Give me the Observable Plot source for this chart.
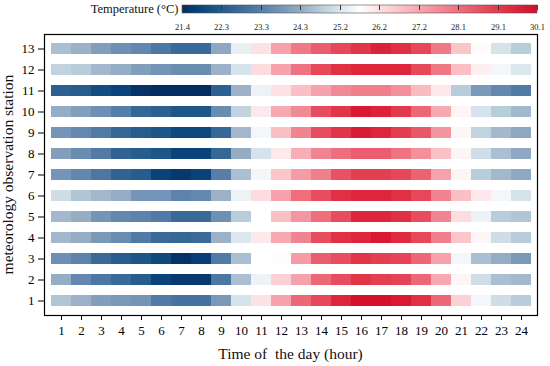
<!DOCTYPE html>
<html><head><meta charset="utf-8">
<script src="https://cdn.jsdelivr.net/npm/d3@7"></script>
<script src="https://cdn.jsdelivr.net/npm/@observablehq/plot@0.6"></script>
<style>
body{margin:0;background:#fff;}
#wrap{width:550px;height:366px;overflow:hidden;}
#wrap svg{display:block;}
</style></head><body><div id="wrap"></div>
<script>
const hours = [1,2,3,4,5,6,7,8,9,10,11,12,13,14,15,16,17,18,19,20,21,22,23,24];
const stations = [13,12,11,10,9,8,7,6,5,4,3,2,1];

const station13 = [24.6,24.4,24.0,23.7,23.5,23.1,22.8,22.8,24.2,25.45,26.2,27.3,28.0,28.5,28.9,29.3,29.7,29.4,28.9,28.0,26.7,25.8,25.2,24.8];
const station12 = [24.9,24.8,24.5,24.3,24.0,23.8,23.6,23.6,24.4,25.2,26.3,27.3,28.1,28.9,29.4,29.6,29.6,29.6,28.9,28.0,26.8,26.0,25.6,25.3];
const station11 = [22.5,22.4,22.0,21.8,21.5,21.4,21.4,21.4,22.5,24.4,25.5,26.2,26.8,27.3,27.7,27.9,27.9,27.6,26.9,26.1,24.8,23.9,23.5,23.2];
const station10 = [24.3,24.0,23.7,23.3,22.7,22.5,22.2,22.2,23.6,24.9,26.1,27.2,27.7,28.8,29.3,29.9,29.7,29.2,28.3,27.2,25.9,25.2,24.8,24.5];
const station9  = [23.8,23.5,23.2,22.7,22.4,22.2,21.9,21.9,22.7,24.5,25.6,26.8,27.8,28.8,29.3,29.8,29.6,29.1,28.6,27.5,25.9,24.9,24.5,24.2];
const station8  = [24.0,23.6,23.2,22.6,22.4,22.2,21.8,21.8,22.7,24.3,25.2,26.1,27.1,27.8,28.2,28.5,28.5,28.1,27.6,26.8,25.9,25.1,24.6,24.2];
const station7  = [23.8,23.5,23.1,22.6,22.4,21.8,21.6,21.8,23.3,24.6,25.6,26.7,27.4,27.9,28.7,29.1,29.1,28.9,28.4,27.3,25.9,24.8,24.5,24.2];
const station6  = [25.1,24.7,24.5,24.3,23.8,23.8,23.4,23.5,24.4,25.5,26.3,27.3,28.2,28.8,29.4,29.6,29.6,29.4,28.9,27.8,26.8,26.1,25.6,25.2];
const station5  = [24.5,24.3,23.8,23.5,23.4,23.2,22.8,22.8,23.7,24.8,25.75,26.8,27.5,28.2,28.8,29.6,29.6,29.4,28.8,27.8,26.3,25.5,24.8,24.7];
const station4  = [24.5,24.3,23.9,23.6,23.2,22.8,22.7,22.8,24.4,25.3,26.1,27.2,27.8,28.8,29.4,29.6,29.9,29.5,28.9,27.9,26.7,25.9,25.1,24.8];
const station3  = [23.7,23.4,22.8,22.4,22.2,21.9,21.5,21.7,23.2,24.6,25.75,25.8,27.4,28.5,28.8,29.3,29.1,29.0,28.3,27.3,25.6,24.6,24.3,23.9];
const station2  = [24.3,23.5,23.1,22.8,22.4,21.8,21.6,21.6,23.1,24.6,25.5,26.5,27.3,28.3,28.8,29.3,29.1,29.0,28.3,27.2,25.9,25.1,24.6,24.5];
const station1  = [24.7,24.4,24.0,23.9,23.8,23.2,23.0,23.0,23.9,25.2,26.2,27.3,28.3,28.9,29.6,30.1,30.1,29.9,29.4,28.3,26.5,25.6,25.1,24.8];

const tempMin = 21.4, tempMax = 30.1;
const legendTickLabels = ["21.4","22.3","23.3","24.3","25.2","26.2","27.2","28.1","29.1","30.1"];

// colour ramp stops (blue - white - red)
const rampValues = [21.4,21.85,22.35,22.85,23.35,23.85,24.35,24.85,25.3,25.75,26.2,26.7,27.2,27.7,28.2,28.7,29.2,29.65,30.1];
const rampColors = ["#032d62","#0b467e","#245b8d","#3d6c9c","#5a80aa","#7797b8","#98aec6","#bcd0dc","#dde8ee","#ffffff","#fde2e5","#fbc6ca","#f7a8b1","#f28a96","#ee6e7c","#e85264","#e23a4c","#dc2439","#d4102a"];
const ramp = d3.scaleLinear().domain(rampValues).range(rampColors).interpolate(d3.interpolateRgb).clamp(true);
const interp = t => ramp(tempMin + t * (tempMax - tempMin));

const rows = [
  [13, station13],[12, station12],[11, station11],[10, station10],[9, station9],[8, station8],[7, station7],
  [6, station6],[5, station5],[4, station4],[3, station3],[2, station2],[1, station1]
];
const data = rows.flatMap(([s, vals]) => vals.map((v, i) => ({station: s, hour: hours[i], temp: v})));

const font = "'Liberation Serif', 'Times New Roman', serif";
const wrap = document.getElementById("wrap");

// Legend
const legendTicks = legendTickLabels.map((_, i) => tempMin + i * (tempMax - tempMin) / (legendTickLabels.length - 1));
const legend = Plot.legend({
  color: {type: "linear", domain: [tempMin, tempMax], interpolate: interp},
  width: 550, height: 32,
  marginLeft: 182, marginRight: 13, marginTop: 5, marginBottom: 19,
  tickSize: 0,
  ticks: legendTicks,
  tickFormat: (d, i) => legendTickLabels[i],
  label: null,
  style: {fontFamily: font, fontSize: "8.5px", color: "#222", background: "white"}
});
wrap.appendChild(legend);
const lg = d3.select(legend);
lg.selectAll(".tick text").attr("y", 11);
lg.selectAll(".tick line").attr("y1", -8).attr("y2", -3).attr("stroke", "#333").attr("stroke-width", 1);
lg.append("rect").attr("x", 182).attr("y", 5).attr("width", 550 - 182 - 13).attr("height", 8)
  .attr("fill", "none").attr("stroke", "#555").attr("stroke-width", 0.6);
lg.append("text").attr("x", 178.5).attr("y", 12.5).attr("text-anchor", "end")
  .attr("font-size", "12.5px").attr("fill", "#111").style("font-family", font).text("Temperature (°C)");

// Heatmap
const chart = Plot.plot({
  width: 550, height: 334,
  marginTop: 2, marginBottom: 51, marginLeft: 44, marginRight: 13,
  style: {fontFamily: font, fontSize: "13px", color: "black", background: "white"},
  x: {type: "band", domain: hours, padding: 0, tickSize: 5, tickPadding: 5, label: null},
  y: {type: "band", domain: stations, padding: 0, tickSize: 6, tickPadding: 4, label: null},
  color: {type: "linear", domain: [tempMin, tempMax], interpolate: interp},
  marks: [
    Plot.cell(data, {x: "hour", y: "station", fill: "temp", inset: 0, insetTop: 5, insetBottom: 5, shapeRendering: "crispEdges"}),
    Plot.frame({stroke: "black", strokeWidth: 1.2})
  ]
});
wrap.appendChild(chart);
const ch = d3.select(chart);
ch.append("text").attr("x", (44 + 537) / 2).attr("y", 327).attr("text-anchor", "middle")
  .attr("font-size", "15.5px").style("white-space", "pre").style("font-family", font).attr("fill", "#111")
  .text("Time of  the day (hour)");
ch.append("text").attr("transform", `translate(13,${(34 + 315) / 2 - 32}) rotate(-90)`).attr("text-anchor", "middle")
  .attr("font-size", "15.5px").style("font-family", font).attr("fill", "#111")
  .text("meteorology observation station");
</script></body></html>
